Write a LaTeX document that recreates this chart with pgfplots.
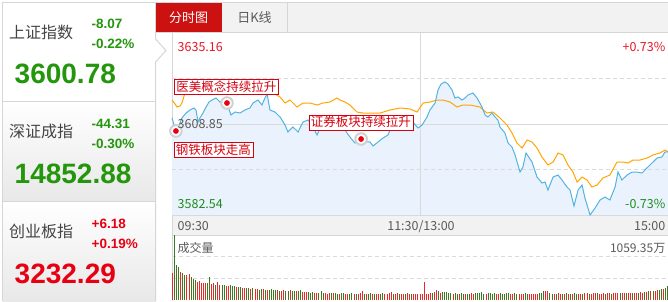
\documentclass[border=0pt]{standalone}
\usepackage{fontspec}
\usepackage{pgfplots}
\usepackage{pgfplotstable}
\pgfplotsset{compat=1.18}
\newfontfamily\cjk{Noto Sans CJK SC}
\newfontfamily\arial{Liberation Sans}
\newcommand\cjkf[1]{\cjk\fontsize{#1}{#1}\selectfont}
\newcommand\arf[1]{\arial\bfseries\fontsize{#1}{#1}\selectfont}

\definecolor{upred}{RGB}{230,0,18}
\definecolor{downgreen}{RGB}{36,150,12}
\definecolor{chartred}{RGB}{228,24,40}
\definecolor{chartgreen}{RGB}{30,140,30}
\definecolor{volred}{RGB}{234,40,40}
\definecolor{volgreen}{RGB}{62,120,32}
\definecolor{lineblue}{RGB}{82,180,224}
\definecolor{lineorange}{RGB}{255,166,0}
\definecolor{areablue}{RGB}{234,243,253}
\definecolor{tabred}{RGB}{204,17,17}
\definecolor{gridgray}{RGB}{218,218,218}
\definecolor{framegray}{RGB}{214,214,214}
\definecolor{textgray}{RGB}{90,90,90}
\definecolor{titlegray}{RGB}{68,68,68}
\definecolor{annred}{RGB}{215,0,15}

% minute of the session (0 = 09:30, 120 = 11:30/13:00, 240 = 15:00), index level
\pgfplotstableread{
t p
0 3610.58
1.0 3608.56
1.9 3606.83
2.9 3607.69
4.8 3610.58
6.8 3612.03
8.7 3612.90
10.6 3613.48
11.6 3612.90
12.6 3609.43
13.5 3610.58
15.0 3612.03
16.5 3613.77
17.9 3615.21
19.4 3615.79
21.3 3616.37
23.2 3615.21
25.2 3615.79
26.6 3614.92
28.5 3611.45
30.5 3612.32
32.9 3612.03
35.3 3612.90
37.7 3613.48
39.2 3614.92
41.6 3615.79
43.5 3614.34
45.0 3616.37
46.0 3617.52
47.4 3612.90
49.8 3612.32
52.3 3610.87
54.7 3608.56
56.1 3606.54
58.5 3607.98
61.0 3606.54
63.4 3609.43
65.8 3610.01
68.2 3607.98
70.2 3605.67
71.6 3607.69
74.0 3610.30
76.5 3610.01
78.9 3609.43
81.3 3608.27
83.7 3607.12
86.1 3605.09
88.5 3603.36
91.5 3604.51
93.9 3603.65
95.8 3603.65
97.3 3602.49
99.7 3603.65
102.1 3604.80
104.5 3605.67
106.5 3608.56
108.9 3610.01
111.3 3610.58
113.7 3610.58
116.6 3609.43
119.0 3607.69
121.0 3608.56
123.4 3610.87
124.8 3612.90
127.3 3614.92
128.7 3618.68
130.2 3620.41
132.1 3620.99
133.5 3620.41
135.5 3618.68
136.9 3616.37
138.4 3616.66
140.3 3615.79
141.8 3616.37
143.2 3617.23
145.6 3617.81
147.6 3616.37
150.0 3613.77
151.5 3611.45
152.9 3610.87
154.8 3612.03
156.3 3610.87
157.7 3610.01
158.7 3607.98
161.1 3606.25
162.6 3603.36
164.5 3602.20
166.0 3599.89
168.4 3594.97
169.8 3596.42
171.3 3600.47
174.2 3597.86
176.6 3593.53
179.0 3591.79
180.5 3592.08
181.9 3589.77
184.4 3593.53
186.8 3594.10
188.7 3592.66
191.1 3590.64
192.6 3589.77
194.5 3585.14
196.5 3589.77
198.4 3591.21
199.8 3587.46
202.3 3582.54
204.7 3584.56
207.1 3586.88
209.5 3587.74
211.9 3586.88
214.4 3590.64
215.8 3594.97
217.7 3592.66
220.2 3594.10
222.6 3594.97
225.0 3594.97
227.4 3594.68
229.8 3596.13
231.3 3597.00
234.7 3599.02
237.1 3599.31
238.5 3600.75
240 3600.78
}\pricetab

% average line
\pgfplotstableread{
t p
0 3615.79
1.5 3614.63
2.4 3613.77
3.9 3614.05
4.8 3614.92
6.3 3617.81
7.7 3618.68
11.1 3618.97
18.4 3619.26
28.1 3618.97
37.7 3618.68
45.0 3618.39
47.4 3617.81
49.8 3617.52
52.3 3616.66
54.7 3614.92
57.1 3615.79
60.5 3613.77
63.4 3614.92
66.8 3614.92
70.2 3614.34
73.1 3614.92
76.5 3615.21
79.8 3616.37
81.3 3615.79
83.7 3615.21
86.1 3614.34
89.5 3612.32
92.4 3612.03
95.8 3612.03
100.7 3612.03
105.5 3612.90
110.3 3613.48
115.2 3613.19
118.6 3612.32
121.5 3614.92
124.8 3615.21
128.2 3615.79
131.1 3615.79
134.5 3615.21
137.9 3613.77
140.8 3614.34
144.2 3614.34
149.0 3613.77
152.4 3612.03
155.3 3612.32
158.7 3610.58
162.1 3608.56
164.5 3606.25
166.9 3603.36
169.4 3601.91
171.8 3604.22
174.2 3603.65
176.6 3601.91
179.0 3599.31
181.9 3597.00
184.4 3597.86
186.8 3600.47
189.2 3599.89
191.6 3597.00
194.0 3594.97
196.0 3592.08
198.4 3593.53
200.8 3592.66
203.2 3590.64
205.7 3591.21
208.5 3593.24
211.9 3594.10
215.3 3597.86
218.2 3597.86
220.7 3597.57
223.1 3598.44
226.5 3598.44
229.8 3599.02
232.7 3599.89
236.1 3600.47
238.6 3601.33
240 3600.75
}\avgtab

% volume (10k shares) of rising minutes
\pgfplotstableread{
t v
0 440
4 460
7 400
8 420
12 300
13 310
14 280
15 275
16 285
19 260
20 270
22 300
23 245
26 235
27 230
31 210
34 200
35 195
38 185
40 180
41 175
44 175
46 160
51 160
53 150
54 160
57 165
60 140
63 135
64 130
65 125
69 120
70 110
74 110
75 105
76 110
78 110
81 100
84 105
85 100
88 100
90 105
91 110
92 150
94 95
97 100
99 100
100 105
103 95
104 100
105 115
106 135
108 105
109 110
111 95
112 100
114 110
115 100
117 90
118 95
119 90
120 95
121 95
122 290
123 105
124 100
125 110
127 130
128 165
130 120
136 105
139 100
142 95
145 110
146 105
152 95
157 100
158 95
164 100
165 95
168 100
169 95
170 100
173 95
174 100
175 95
176 100
177 95
181 150
182 145
185 95
187 110
188 100
190 100
192 105
194 95
197 100
198 105
200 110
201 115
203 100
204 120
205 115
207 105
208 100
209 110
211 115
212 110
214 110
215 115
216 110
218 115
219 110
221 115
222 110
224 120
225 115
227 125
228 120
230 135
232 140
234 155
235 160
238 175
}\volup

% volume (10k shares) of falling minutes
\pgfplotstableread{
t v
1 1059.35
2 570
3 540
5 440
6 410
9 380
10 345
11 330
17 270
18 375
21 250
24 250
25 240
28 240
29 225
30 230
32 215
33 205
36 200
37 190
39 195
42 170
43 185
45 165
47 170
48 175
49 165
50 160
52 155
55 150
56 155
58 150
59 145
61 150
62 160
66 130
67 120
68 125
71 115
72 140
73 120
77 115
79 120
80 105
82 110
83 115
86 105
87 110
89 95
93 100
95 105
96 110
98 95
101 100
102 110
107 100
110 100
113 105
116 95
126 120
129 150
131 130
132 125
133 130
134 120
135 110
137 115
138 105
140 110
141 100
143 105
144 100
147 110
148 120
149 115
150 125
151 100
153 110
154 120
155 105
156 110
159 110
160 105
161 100
162 115
163 120
166 110
167 105
171 110
172 105
178 110
179 120
180 140
183 110
184 100
186 105
189 95
191 110
193 100
195 110
196 105
199 100
202 105
206 110
210 105
213 105
217 110
220 120
223 115
226 120
229 130
231 140
233 150
236 170
237 180
239 200
240 230
}\voldown

\begin{document}
\begin{tikzpicture}
\fill[white] (0,0) rectangle (668pt,-301pt);

% ---------- index cards, tab bar, frames ----------
\begin{scope}[x=1pt,y=-1pt]
  % cards
  \fill[white] (2.5,2.5) rectangle (155.5,101);
  \shade[top color=white, bottom color=black!9] (2.5,101) rectangle (155.5,201);
  \shade[top color=white, bottom color=black!9] (2.5,201) rectangle (155.5,301);
  \draw[framegray, line width=1pt] (2.5,301) -- (2.5,2.5) -- (155.5,2.5);
  \draw[framegray, line width=1pt] (155.5,2.5) -- (155.5,39) -- (166,50.5) -- (155.5,62) -- (155.5,301);
  \draw[framegray, line width=1pt] (2.5,101) -- (155.5,101);
  \draw[framegray, line width=1pt] (2.5,201) -- (155.5,201);

  % tab bar
  \fill[black!5] (156,2.5) rectangle (668,32.5);
  \draw[framegray, line width=1pt] (156,2.5) -- (668,2.5);
  \draw[framegray, line width=1pt] (156,32.5) -- (668,32.5);
  \draw[framegray, line width=1pt] (287.5,2.5) -- (287.5,32.5);
  \fill[tabred] (156,3) rectangle (221.5,32);
  \node[anchor=base, inner sep=0, text=white, font={\cjkf{13}}] at (188.5,22) {分时图};
  \node[anchor=base, inner sep=0, text=textgray, font={\cjkf{13}}] at (254.5,22) {日K线};

  % time strip
  \fill[black!5] (172,215) rectangle (668,236);
  \draw[framegray, line width=1pt] (172,215.5) -- (668,215.5);
  \draw[framegray, line width=1pt] (172,235.5) -- (668,235.5);
  \draw[framegray, line width=1pt] (172.5,33) -- (172.5,301);
\end{scope}

% ---------- intraday price panel ----------
\begin{axis}[
  at={(172pt,-215pt)}, anchor=south west,
  scale only axis, width=496pt, height=182pt,
  xmin=0, xmax=240, ymin=3582.54, ymax=3635.16,
  axis line style={draw=none}, xtick=\empty, ytick=\empty,
  clip=false,
]
  \addplot[fill=areablue, draw=none] table[x=t, y=p] {\pricetab}
    -- (axis cs:240,3582.54) -- (axis cs:0,3582.54) -- cycle;
  \draw[gridgray, line width=1pt] (axis cs:0,3608.85) -- (axis cs:240,3608.85);
  \draw[gridgray, line width=0.8pt, dash pattern=on 4pt off 3pt] (axis cs:0,3622.005) -- (axis cs:240,3622.005);
  \draw[gridgray, line width=0.8pt, dash pattern=on 4pt off 3pt] (axis cs:0,3595.695) -- (axis cs:240,3595.695);
  \draw[gridgray, line width=1pt] (axis cs:120,3582.54) -- (axis cs:120,3635.16);
  \addplot[lineorange, line width=1pt, mark=none] table[x=t, y=p] {\avgtab};
  \addplot[lineblue, line width=1pt, mark=none] table[x=t, y=p] {\pricetab};
  % news markers on the index line
  \addplot[only marks, mark=*, mark size=5.8pt,
    mark options={fill=white, draw=black!18, line width=2pt}]
    coordinates {(1.9,3606.83) (26.6,3614.92) (91.5,3604.51)};
  \addplot[only marks, mark=*, mark size=2.6pt,
    mark options={fill=upred, draw=upred}]
    coordinates {(1.9,3606.83) (26.6,3614.92) (91.5,3604.51)};
\end{axis}

% ---------- volume panel ----------
\begin{axis}[
  at={(172pt,-300pt)}, anchor=south west,
  scale only axis, width=496pt, height=65pt,
  xmin=-0.25, xmax=240.25, ymin=0, ymax=1059.35,
  axis line style={draw=none}, xtick=\empty, ytick=\empty,
  clip=false,
]
  \draw[gridgray, line width=0.8pt, dash pattern=on 4pt off 3pt] (axis cs:-0.25,353.12) -- (axis cs:240.25,353.12);
  \draw[gridgray, line width=0.8pt, dash pattern=on 4pt off 3pt] (axis cs:-0.25,706.23) -- (axis cs:240.25,706.23);
  \addplot[ycomb, volred, line width=1pt, mark=none] table[x=t, y=v] {\volup};
  \addplot[ycomb, volgreen, line width=1pt, mark=none] table[x=t, y=v] {\voldown};
\end{axis}

% ---------- texts ----------
\begin{scope}[x=1pt,y=-1pt]
  % card 1
  \node[anchor=base west, inner sep=0, text=titlegray, font={\cjkf{16}}] at (9,38.5) {上证指数};
  \node[anchor=base west, inner sep=0, text=downgreen, font={\arf{13.5}}] at (91.5,28) {-8.07};
  \node[anchor=base west, inner sep=0, text=downgreen, font={\arf{13.5}}] at (91.5,48) {-0.22\%};
  \node[anchor=base west, inner sep=0, text=downgreen, font={\arf{28}}] at (14.5,83) {3600.78};
  % card 2
  \node[anchor=base west, inner sep=0, text=titlegray, font={\cjkf{16}}] at (9,137.5) {深证成指};
  \node[anchor=base west, inner sep=0, text=downgreen, font={\arf{13.5}}] at (91.5,128) {-44.31};
  \node[anchor=base west, inner sep=0, text=downgreen, font={\arf{13.5}}] at (91.5,148) {-0.30\%};
  \node[anchor=base west, inner sep=0, text=downgreen, font={\arf{28}}] at (14.5,183) {14852.88};
  % card 3
  \node[anchor=base west, inner sep=0, text=titlegray, font={\cjkf{16}}] at (9,237.5) {创业板指};
  \node[anchor=base west, inner sep=0, text=upred, font={\arf{13.5}}] at (91.5,228) {+6.18};
  \node[anchor=base west, inner sep=0, text=upred, font={\arf{13.5}}] at (91.5,248) {+0.19\%};
  \node[anchor=base west, inner sep=0, text=upred, font={\arf{28}}] at (14.5,283) {3232.29};

  % price scale
  \node[anchor=base west, inner sep=0, text=chartred, font={\cjkf{12.5}}] at (177.5,51.5) {3635.16};
  \node[anchor=base east, inner sep=0, text=chartred, font={\cjkf{12.5}}] at (665.5,51.5) {+0.73\%};
  \node[anchor=base west, inner sep=0, text=textgray, font={\cjkf{12.5}}] at (177.5,128.5) {3608.85};
  \node[anchor=base west, inner sep=0, text=chartgreen, font={\cjkf{12.5}}] at (177.5,208) {3582.54};
  \node[anchor=base east, inner sep=0, text=chartgreen, font={\cjkf{12.5}}] at (665.5,208) {-0.73\%};

  % news labels
  \node[anchor=west, draw=annred, fill=white, line width=0.8pt, text=annred, inner xsep=2pt, inner ysep=1pt,
        text height=10.5pt, text depth=2.5pt, font={\cjkf{12.5}}] at (174,87) {医美概念持续拉升};
  \node[anchor=west, draw=annred, fill=white, line width=0.8pt, text=annred, inner xsep=2pt, inner ysep=1pt,
        text height=10.5pt, text depth=2.5pt, font={\cjkf{12.5}}] at (173.5,150) {钢铁板块走高};
  \node[anchor=west, draw=annred, fill=white, line width=0.8pt, text=annred, inner xsep=2pt, inner ysep=1pt,
        text height=10.5pt, text depth=2.5pt, font={\cjkf{12.5}}] at (308.5,122.5) {证券板块持续拉升};

  % time axis
  \node[anchor=base west, inner sep=0, text=textgray, font={\cjkf{12.5}}] at (177.5,230) {09:30};
  \node[anchor=base, inner sep=0, text=textgray, font={\cjkf{12.5}}] at (421,230) {11:30/13:00};
  \node[anchor=base east, inner sep=0, text=textgray, font={\cjkf{12.5}}] at (665.5,230) {15:00};

  % volume captions
  \node[anchor=base west, inner sep=0, text=textgray, font={\cjkf{12}}] at (177.5,252.5) {成交量};
  \node[anchor=base east, inner sep=0, text=textgray, font={\cjkf{12}}] at (665.5,252.5) {1059.35万};
\end{scope}

\pgfresetboundingbox
\useasboundingbox (0,0) rectangle (668pt,-301pt);
\end{tikzpicture}
\end{document}
